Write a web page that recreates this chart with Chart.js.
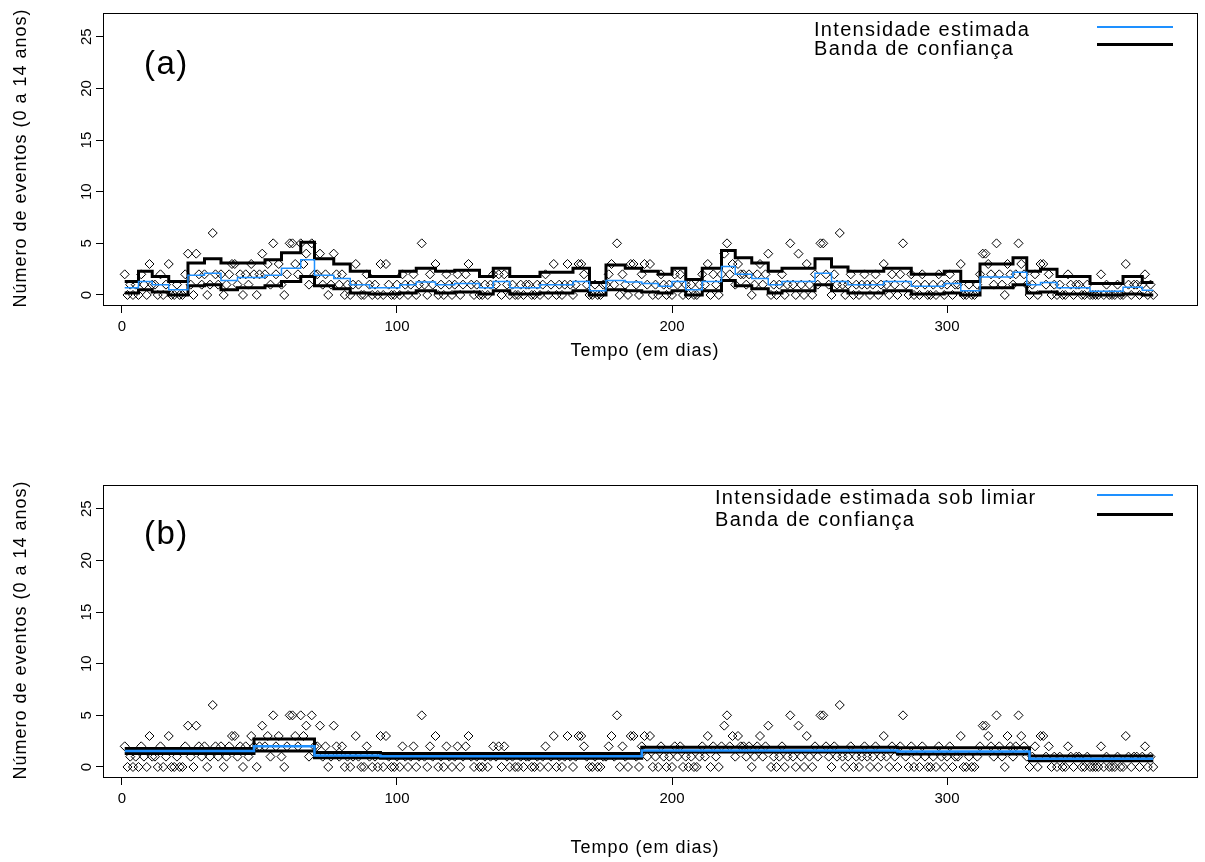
<!DOCTYPE html>
<html>
<head>
<meta charset="utf-8">
<script src="https://cdn.jsdelivr.net/npm/chart.js@4/dist/chart.umd.min.js"></script>
<style>
  body { margin: 0; background: #fff; width: 1205px; height: 862px; position: relative; overflow: hidden;
         font-family: "Liberation Sans", Arial, sans-serif; color: #000; }
  canvas { position: absolute; left: 0; }
  #chartA { top: 0; }
  #chartB { top: 472px; }
  .txt { position: absolute; white-space: nowrap; line-height: 1; }
  .painel { font-size: 33px; letter-spacing: 1.5px; }
  .leg { font-size: 20px; letter-spacing: 1.3px; }
  .titulo { font-size: 18px; letter-spacing: 1px; }
  .ytit { transform: translate(-50%, -50%) rotate(-90deg); }
  .xtit { transform: translate(-50%, -50%); }
  .amostra { position: absolute; left: 1097px; width: 76px; }
</style>
</head>
<body>
<canvas id="chartA" width="1205" height="390"></canvas>
<canvas id="chartB" width="1205" height="390"></canvas>

<div class="txt painel" style="left:144px; top:46px;">(a)</div>
<div class="txt painel" style="left:144px; top:516px;">(b)</div>

<div class="txt leg" style="left:814px; top:19px;">Intensidade estimada</div>
<div class="txt leg" style="left:814px; top:38px;">Banda de confiança</div>
<div class="amostra" style="top:26px; height:2px; background:#1E90FF;"></div>
<div class="amostra" style="top:43px; height:3px; background:#000;"></div>

<div class="txt leg" style="left:715px; top:487px;">Intensidade estimada sob limiar</div>
<div class="txt leg" style="left:715px; top:509px;">Banda de confiança</div>
<div class="amostra" style="top:494px; height:2px; background:#1E90FF;"></div>
<div class="amostra" style="top:513px; height:3px; background:#000;"></div>

<div class="txt titulo ytit" style="left:20px; top:158px;">Número de eventos (0 a 14 anos)</div>
<div class="txt titulo ytit" style="left:20px; top:630px;">Número de eventos (0 a 14 anos)</div>
<div class="txt titulo xtit" style="left:645px; top:350px;">Tempo (em dias)</div>
<div class="txt titulo xtit" style="left:645px; top:847px;">Tempo (em dias)</div>

<script>
// contagens diárias, dias 1..375
const eventos = [
  2,0,1,0,1, 0,2,1,0,3, 1,1,0,2,0, 1,3,0,0,1, 0,0,2,4,1,
  0,4,2,1,2, 0,1,6,2,1, 2,0,1,2,3, 3,1,2,0,2, 1,3,2,0,2,
  4,2,3,1,5, 2,3,1,0,2, 5,5,3,2,5, 3,4,1,5,2, 2,4,1,2,0,
  1,4,2,1,2, 0,1,0,1,3, 1,0,0,2,1, 0,1,0,3,0, 3,1,0,0,1,
  0,2,1,0,1, 2,0,1,5,1, 0,2,1,3,0, 1,0,2,1,0, 1,2,0,1,2,
  3,1,0,1,0, 0,1,0,1,2, 1,2,0,2,1, 0,1,0,0,1, 0,1,1,0,0,
  1,0,1,2,0, 1,3,0,1,0, 1,3,1,0,1, 3,3,2,1,0, 0,1,0,0,1,
  1,2,3,1,5, 0,2,1,0,3, 3,1,0,2,3, 1,3,0,1,0, 2,1,0,1,0,
  2,1,2,0,1, 0,1,0,0,1, 2,1,3,0,2, 1,0,2,4,5, 2,3,1,3,2,
  2,1,2,0,1, 2,3,1,2,4, 0,1,0,1,2, 0,1,5,1,0, 4,1,0,3,1,
  0,2,1,5,5, 2,1,0,2,1, 6,1,0,1,2, 0,1,0,1,2, 1,0,1,2,0,
  1,3,1,0,2, 1,0,2,5,1, 0,2,0,1,0, 2,1,0,0,1, 0,2,1,0,1,
  2,0,1,1,3, 0,0,1,0,0, 1,2,4,4,3, 2,1,5,2,1, 0,3,2,1,2,
  5,3,2,1,0, 1,2,0,3,3, 1,2,0,1,0, 1,0,0,2,1, 0,1,1,0,0,
  1,0,0,0,0, 2,0,1,0,0, 0,1,0,0,3, 1,0,1,1,0, 1,2,0,1,0
];

// painel (a): degraus da intensidade estimada e da banda
const quebrasA = [1,6,11,17,24,30,36,42,52,58,65,70,77,83,90,101,107,114,121,130,135,141,152,164,170,
  176,183,189,195,200,205,211,218,223,229,235,240,252,258,264,277,287,299,305,312,324,329,334,340,352,364,371,375];
const intensA = [0.7,1.3,1.0,0.5,1.9,2.1,1.4,1.7,1.9,2.6, 3.4,1.9,1.6,1.0,0.7,1.0,1.25,1.0,1.1,0.7,
  1.3,0.7,1.0,1.3,0.4,1.4,1.25,1.1,0.85,1.3, 0.5,1.3,2.75,2.0,1.6,1.0,1.3,2.1,1.3,1.0,
  1.3,0.85,1.1,0.4,1.75,2.2,1.0,1.2,0.7,0.35, 0.75,0.45,0.45];
const superiorA = [1.3,2.3,1.8,1.3,3.1,3.5,3.1,3.1,3.4,4.1, 5.1,3.5,3.0,2.3,1.8,2.3,2.6,2.3,2.4,1.8,
  2.6,1.8,2.2,2.6,1.2,2.9,2.6,2.3,2.0,2.6, 1.5,2.6,4.3,3.6,3.1,2.3,2.6,3.5,2.7,2.3,
  2.6,2.0,2.3,1.3,3.0,3.6,2.3,2.5,1.8,1.1, 1.8,1.2,1.2];
const inferiorA = [0.2,0.5,0.3,0.0,0.9,1.0,0.5,0.7,0.9,1.3, 1.8,0.9,0.6,0.2,0.1,0.2,0.4,0.2,0.3,0.1,
  0.4,0.1,0.2,0.4,0.0,0.5,0.4,0.3,0.2,0.4, 0.0,0.4,1.4,0.9,0.6,0.2,0.4,1.0,0.4,0.2,
  0.4,0.1,0.2,0.0,0.7,1.0,0.2,0.3,0.1,0.0, 0.1,0.0,0.0];

// painel (b): intensidade sob limiar
const quebrasB = [1,48,70,94,189,282,330,375];
const intensB = [1.55,2.0,1.1,1.05,1.6,1.5,0.8,0.8];
const superiorB = [1.8,2.7,1.4,1.3,1.9,1.85,1.07,1.07];
const inferiorB = [1.3,1.55,0.9,0.85,1.45,1.25,0.6,0.6];

const xTicks = [0, 100, 200, 300];
const yTicks = [0, 5, 10, 15, 20, 25];

const FONTE = '"Liberation Sans", Arial, sans-serif';
const AZUL = '#1E90FF';

function degraus(quebras, vals) {
  return quebras.map((d, i) => ({ x: d, y: vals[i] }));
}

// moldura do gráfico + rótulos do eixo y na vertical (estilo R)
const moldura = {
  id: 'moldura',
  afterDraw(chart) {
    const { ctx, chartArea: a } = chart;
    const y = chart.scales.y;
    ctx.save();
    ctx.strokeStyle = '#000';
    ctx.lineWidth = 1;
    ctx.strokeRect(Math.round(a.left) + 0.5, Math.round(a.top) + 0.5,
      Math.round(a.right - a.left), Math.round(a.bottom - a.top));
    ctx.fillStyle = '#000';
    ctx.font = '15px ' + FONTE;
    ctx.textAlign = 'center';
    ctx.textBaseline = 'middle';
    y.ticks.forEach((t) => {
      ctx.save();
      ctx.translate(a.left - 16, y.getPixelForValue(t.value));
      ctx.rotate(-Math.PI / 2);
      ctx.fillText(String(t.value), 0, 0);
      ctx.restore();
    });
    ctx.restore();
  },
};

function linha(dados, cor, largura) {
  return {
    data: dados,
    borderColor: cor,
    borderWidth: largura,
    pointRadius: 0,
    stepped: true,
    fill: false,
    borderCapStyle: 'butt',
    borderJoinStyle: 'miter',
  };
}

function montar(id, intens, sup, inf, largAzul) {
  new Chart(document.getElementById(id), {
    type: 'line',
    data: {
      datasets: [
        linha(intens, AZUL, largAzul),
        linha(sup, '#000', 3),
        linha(inf, '#000', 3),
        {
          data: eventos.map((v, i) => ({ x: i + 1, y: v })),
          showLine: false,
          pointStyle: 'rectRot',
          pointRadius: 4.5,
          pointBorderWidth: 1,
          pointBorderColor: '#000',
          pointBackgroundColor: 'rgba(0,0,0,0)',
        },
      ],
    },
    options: {
      responsive: false,
      animation: false,
      devicePixelRatio: 1,
      events: [],
      layout: { padding: { top: 13, right: 8, left: 0, bottom: 0 } },
      plugins: { legend: { display: false }, tooltip: { enabled: false } },
      scales: {
        x: {
          type: 'linear',
          min: -6.9,
          max: 390.9,
          afterBuildTicks: (s) => { s.ticks = xTicks.map((v) => ({ value: v })); },
          afterFit: (s) => { s.height = 85; },
          ticks: { color: '#000', font: { family: FONTE, size: 15 }, padding: 5, maxRotation: 0, autoSkip: false },
          grid: { drawOnChartArea: false, drawTicks: true, tickLength: 8, color: '#000' },
          border: { color: '#000' },
        },
        y: {
          type: 'linear',
          min: -0.97,
          max: 27.3,
          afterBuildTicks: (s) => { s.ticks = yTicks.map((v) => ({ value: v })); },
          afterFit: (s) => { s.width = 103; },
          ticks: { display: false },
          grid: { drawOnChartArea: false, drawTicks: true, tickLength: 7, color: '#000' },
          border: { color: '#000' },
        },
      },
    },
    plugins: [moldura],
  });
}

montar('chartA', degraus(quebrasA, intensA), degraus(quebrasA, superiorA), degraus(quebrasA, inferiorA), 1.5);
montar('chartB', degraus(quebrasB, intensB), degraus(quebrasB, superiorB), degraus(quebrasB, inferiorB), 2.5);
</script>
</body>
</html>
